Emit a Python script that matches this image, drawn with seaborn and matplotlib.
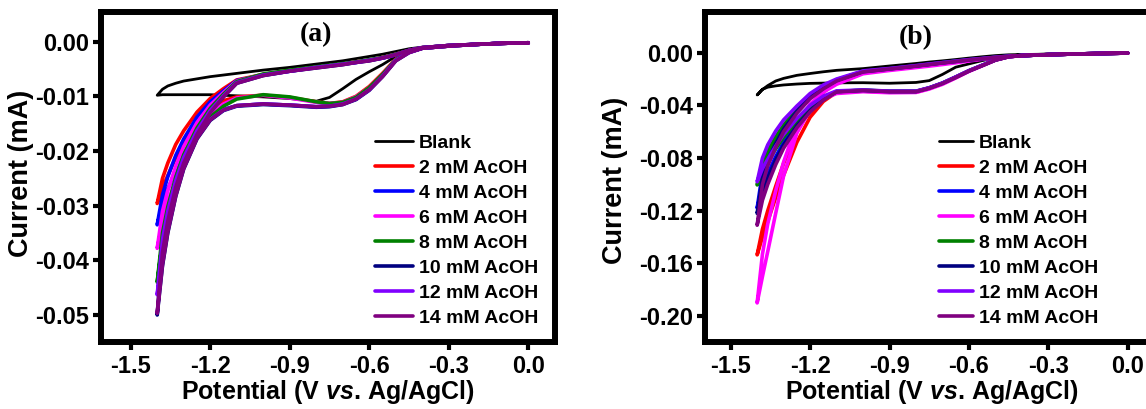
import matplotlib
matplotlib.use("Agg")
import matplotlib.pyplot as plt
import pandas as pd
import seaborn as sns

# ---------------- data ----------------
# potential grid (V vs. Ag/AgCl); forward scan goes 0 -> -1.4, reverse comes back
E = [0.0, -0.1, -0.2, -0.3, -0.4, -0.45, -0.5, -0.55, -0.6, -0.65, -0.7, -0.75,
     -0.8, -0.9, -1.0, -1.1, -1.15, -1.2, -1.25, -1.3, -1.33, -1.36, -1.38, -1.40]

labels = ["Blank", "2 mM AcOH", "4 mM AcOH", "6 mM AcOH", "8 mM AcOH",
          "10 mM AcOH", "12 mM AcOH", "14 mM AcOH"]
colors = ["#000000", "#FF0000", "#0000FF", "#FF00FF", "#008000",
          "#000080", "#8000FF", "#800080"]

x_ticks = [-1.5, -1.2, -0.9, -0.6, -0.3, 0.0]
x_ticklabels = ["-1.5", "-1.2", "-0.9", "-0.6", "-0.3", "0.0"]
a_yticks = [0.00, -0.01, -0.02, -0.03, -0.04, -0.05]
a_yticklabels = ["0.00", "-0.01", "-0.02", "-0.03", "-0.04", "-0.05"]
b_yticks = [0.00, -0.04, -0.08, -0.12, -0.16, -0.20]
b_yticklabels = ["0.00", "-0.04", "-0.08", "-0.12", "-0.16", "-0.20"]

# ---- panel (a): current (mA), forward scan values on E ----
a_fwd_blank = [-0.0002, -0.0003, -0.0005, -0.0007, -0.0011, -0.0017, -0.0027, -0.0042, -0.0055, -0.0069, -0.0086, -0.0102,
               -0.0109, -0.0104, -0.0101, -0.0099, -0.0098, -0.0097, -0.0097, -0.0097, -0.0097, -0.0097, -0.0097, -0.0098]
a_fwd_2 = [-0.0002, -0.0003, -0.0005, -0.0008, -0.0012, -0.0019, -0.0032, -0.0058, -0.0082, -0.0100, -0.0110, -0.0113,
           -0.0110, -0.0102, -0.0098, -0.0101, -0.0108, -0.0122, -0.0148, -0.0185, -0.0212, -0.0245, -0.0268, -0.0296]
a_fwd_4 = [-0.0002, -0.0003, -0.0005, -0.0008, -0.0012, -0.0019, -0.0034, -0.0062, -0.0087, -0.0105, -0.0114, -0.0118,
           -0.0119, -0.0116, -0.0114, -0.0117, -0.0124, -0.0138, -0.0165, -0.0205, -0.0235, -0.0270, -0.0298, -0.0335]
a_fwd_6 = [-0.0002, -0.0003, -0.0005, -0.0008, -0.0012, -0.0019, -0.0033, -0.0060, -0.0084, -0.0101, -0.0111, -0.0113,
           -0.0111, -0.0103, -0.0098, -0.0103, -0.0114, -0.0132, -0.0165, -0.0213, -0.0250, -0.0296, -0.0334, -0.0378]
a_fwd_8 = [-0.0002, -0.0003, -0.0005, -0.0008, -0.0012, -0.0019, -0.0033, -0.0060, -0.0084, -0.0102, -0.0111, -0.0113,
           -0.0110, -0.0101, -0.0097, -0.0105, -0.0118, -0.0138, -0.0172, -0.0222, -0.0265, -0.0318, -0.0365, -0.0440]
a_fwd_10 = [-0.0002, -0.0003, -0.0005, -0.0008, -0.0012, -0.0020, -0.0035, -0.0064, -0.0089, -0.0106, -0.0115, -0.0119,
            -0.0120, -0.0117, -0.0115, -0.0118, -0.0126, -0.0144, -0.0178, -0.0233, -0.0283, -0.0350, -0.0410, -0.0500]
a_fwd_12 = [-0.0002, -0.0003, -0.0005, -0.0008, -0.0012, -0.0020, -0.0034, -0.0063, -0.0088, -0.0105, -0.0114, -0.0118,
            -0.0119, -0.0116, -0.0114, -0.0117, -0.0125, -0.0142, -0.0175, -0.0228, -0.0275, -0.0338, -0.0392, -0.0463]
a_fwd_14 = [-0.0002, -0.0003, -0.0005, -0.0008, -0.0012, -0.0020, -0.0035, -0.0064, -0.0088, -0.0105, -0.0115, -0.0118,
            -0.0119, -0.0116, -0.0114, -0.0117, -0.0125, -0.0143, -0.0177, -0.0232, -0.0282, -0.0348, -0.0408, -0.0497]

# ---- panel (a): reverse scan values on E ----
a_rev_blank = [-0.0002, -0.0003, -0.0005, -0.0007, -0.0010, -0.0013, -0.0018, -0.0023, -0.0027, -0.0031, -0.0035, -0.0038,
               -0.0041, -0.0047, -0.0052, -0.0058, -0.0061, -0.0064, -0.0068, -0.0072, -0.0076, -0.0081, -0.0087, -0.0098]
a_rev_2 = [-0.0002, -0.0003, -0.0005, -0.0007, -0.0011, -0.0016, -0.0023, -0.0029, -0.0034, -0.0037, -0.0041, -0.0044,
           -0.0047, -0.0053, -0.0060, -0.0070, -0.0086, -0.0104, -0.0129, -0.0163, -0.0188, -0.0222, -0.0250, -0.0296]
a_rev_4 = [-0.0002, -0.0003, -0.0005, -0.0007, -0.0011, -0.0016, -0.0024, -0.0030, -0.0034, -0.0038, -0.0041, -0.0044,
           -0.0047, -0.0054, -0.0061, -0.0071, -0.0090, -0.0110, -0.0138, -0.0178, -0.0208, -0.0247, -0.0280, -0.0335]
a_rev_6 = [-0.0002, -0.0003, -0.0005, -0.0007, -0.0011, -0.0016, -0.0023, -0.0029, -0.0034, -0.0037, -0.0041, -0.0044,
           -0.0047, -0.0053, -0.0060, -0.0072, -0.0093, -0.0116, -0.0148, -0.0192, -0.0228, -0.0272, -0.0310, -0.0378]
a_rev_8 = [-0.0002, -0.0003, -0.0005, -0.0007, -0.0011, -0.0016, -0.0023, -0.0029, -0.0033, -0.0037, -0.0040, -0.0043,
           -0.0046, -0.0052, -0.0059, -0.0073, -0.0096, -0.0122, -0.0158, -0.0207, -0.0248, -0.0302, -0.0350, -0.0440]
a_rev_10 = [-0.0002, -0.0003, -0.0005, -0.0007, -0.0011, -0.0016, -0.0024, -0.0030, -0.0035, -0.0038, -0.0042, -0.0045,
            -0.0048, -0.0054, -0.0062, -0.0076, -0.0101, -0.0128, -0.0166, -0.0215, -0.0258, -0.0318, -0.0375, -0.0500]
a_rev_12 = [-0.0002, -0.0003, -0.0005, -0.0007, -0.0011, -0.0016, -0.0024, -0.0030, -0.0034, -0.0038, -0.0041, -0.0044,
            -0.0047, -0.0054, -0.0061, -0.0075, -0.0099, -0.0126, -0.0163, -0.0212, -0.0254, -0.0310, -0.0362, -0.0463]
a_rev_14 = [-0.0002, -0.0003, -0.0005, -0.0007, -0.0011, -0.0016, -0.0024, -0.0030, -0.0035, -0.0038, -0.0042, -0.0045,
            -0.0048, -0.0054, -0.0062, -0.0076, -0.0101, -0.0130, -0.0170, -0.0222, -0.0266, -0.0328, -0.0385, -0.0497]

# ---- panel (b): forward scan values on E ----
b_fwd_blank = [-0.0003, -0.0005, -0.0008, -0.0011, -0.0016, -0.0025, -0.0040, -0.0060, -0.0085, -0.0110, -0.0165, -0.0212,
               -0.0226, -0.0232, -0.0228, -0.0229, -0.0231, -0.0233, -0.0238, -0.0245, -0.0252, -0.0262, -0.0278, -0.0321]
b_fwd_2 = [-0.0003, -0.0006, -0.0010, -0.0015, -0.0022, -0.0031, -0.0056, -0.0098, -0.0140, -0.0190, -0.0236, -0.0272,
           -0.0300, -0.0300, -0.0292, -0.0300, -0.0370, -0.0490, -0.0680, -0.0930, -0.1100, -0.1280, -0.1400, -0.1535]
b_fwd_4 = [-0.0003, -0.0006, -0.0010, -0.0015, -0.0022, -0.0030, -0.0055, -0.0097, -0.0138, -0.0186, -0.0232, -0.0268,
           -0.0294, -0.0294, -0.0285, -0.0295, -0.0350, -0.0430, -0.0540, -0.0680, -0.0790, -0.0920, -0.1020, -0.1180]
b_fwd_6 = [-0.0003, -0.0006, -0.0010, -0.0015, -0.0022, -0.0031, -0.0057, -0.0100, -0.0142, -0.0192, -0.0240, -0.0276,
           -0.0302, -0.0304, -0.0296, -0.0310, -0.0350, -0.0435, -0.0610, -0.0935, -0.1220, -0.1510, -0.1700, -0.1900]
b_fwd_8 = [-0.0003, -0.0006, -0.0010, -0.0015, -0.0022, -0.0030, -0.0055, -0.0096, -0.0137, -0.0185, -0.0231, -0.0267,
           -0.0293, -0.0293, -0.0284, -0.0295, -0.0345, -0.0420, -0.0520, -0.0640, -0.0730, -0.0830, -0.0900, -0.1004]
b_fwd_10 = [-0.0003, -0.0006, -0.0010, -0.0015, -0.0022, -0.0030, -0.0055, -0.0097, -0.0138, -0.0186, -0.0232, -0.0268,
            -0.0295, -0.0295, -0.0286, -0.0295, -0.0355, -0.0440, -0.0555, -0.0700, -0.0815, -0.0950, -0.1060, -0.1220]
b_fwd_12 = [-0.0003, -0.0006, -0.0010, -0.0015, -0.0022, -0.0030, -0.0054, -0.0095, -0.0136, -0.0184, -0.0230, -0.0266,
            -0.0292, -0.0292, -0.0283, -0.0290, -0.0330, -0.0400, -0.0500, -0.0620, -0.0710, -0.0810, -0.0880, -0.0980]
b_fwd_14 = [-0.0003, -0.0006, -0.0010, -0.0015, -0.0022, -0.0031, -0.0056, -0.0098, -0.0139, -0.0188, -0.0234, -0.0270,
            -0.0296, -0.0296, -0.0287, -0.0298, -0.0360, -0.0450, -0.0570, -0.0725, -0.0850, -0.1000, -0.1120, -0.1310]

# ---- panel (b): reverse scan values on E ----
b_rev_blank = [-0.0003, -0.0005, -0.0008, -0.0011, -0.0014, -0.0016, -0.0022, -0.0031, -0.0041, -0.0052, -0.0062, -0.0071,
               -0.0082, -0.0101, -0.0121, -0.0134, -0.0145, -0.0158, -0.0172, -0.0195, -0.0215, -0.0250, -0.0280, -0.0321]
b_rev_2 = [-0.0003, -0.0006, -0.0010, -0.0015, -0.0022, -0.0028, -0.0037, -0.0047, -0.0057, -0.0069, -0.0080, -0.0092,
           -0.0104, -0.0126, -0.0150, -0.0225, -0.0300, -0.0420, -0.0600, -0.0840, -0.1015, -0.1200, -0.1340, -0.1535]
b_rev_4 = [-0.0003, -0.0006, -0.0010, -0.0015, -0.0022, -0.0027, -0.0035, -0.0045, -0.0054, -0.0065, -0.0076, -0.0088,
           -0.0100, -0.0122, -0.0142, -0.0205, -0.0260, -0.0330, -0.0430, -0.0560, -0.0660, -0.0790, -0.0910, -0.1180]
b_rev_6 = [-0.0003, -0.0006, -0.0010, -0.0015, -0.0022, -0.0030, -0.0040, -0.0050, -0.0063, -0.0077, -0.0090, -0.0102,
           -0.0113, -0.0135, -0.0160, -0.0240, -0.0300, -0.0390, -0.0540, -0.0830, -0.1050, -0.1300, -0.1530, -0.1900]
b_rev_8 = [-0.0003, -0.0006, -0.0010, -0.0015, -0.0022, -0.0027, -0.0035, -0.0045, -0.0054, -0.0065, -0.0076, -0.0088,
           -0.0100, -0.0122, -0.0142, -0.0210, -0.0265, -0.0335, -0.0430, -0.0550, -0.0640, -0.0750, -0.0850, -0.1004]
b_rev_10 = [-0.0003, -0.0006, -0.0010, -0.0015, -0.0022, -0.0027, -0.0036, -0.0046, -0.0055, -0.0066, -0.0077, -0.0089,
            -0.0101, -0.0123, -0.0144, -0.0210, -0.0268, -0.0340, -0.0445, -0.0580, -0.0690, -0.0820, -0.0950, -0.1220]
b_rev_12 = [-0.0003, -0.0006, -0.0010, -0.0015, -0.0022, -0.0027, -0.0035, -0.0044, -0.0053, -0.0064, -0.0075, -0.0086,
            -0.0098, -0.0120, -0.0138, -0.0200, -0.0245, -0.0310, -0.0405, -0.0510, -0.0595, -0.0700, -0.0800, -0.0980]
b_rev_14 = [-0.0003, -0.0006, -0.0010, -0.0015, -0.0022, -0.0028, -0.0036, -0.0046, -0.0056, -0.0067, -0.0078, -0.0090,
            -0.0102, -0.0124, -0.0146, -0.0215, -0.0275, -0.0350, -0.0460, -0.0600, -0.0720, -0.0860, -0.1000, -0.1310]

a_fwd = [a_fwd_blank, a_fwd_2, a_fwd_4, a_fwd_6, a_fwd_8, a_fwd_10, a_fwd_12, a_fwd_14]
a_rev = [a_rev_blank, a_rev_2, a_rev_4, a_rev_6, a_rev_8, a_rev_10, a_rev_12, a_rev_14]
b_fwd = [b_fwd_blank, b_fwd_2, b_fwd_4, b_fwd_6, b_fwd_8, b_fwd_10, b_fwd_12, b_fwd_14]
b_rev = [b_rev_blank, b_rev_2, b_rev_4, b_rev_6, b_rev_8, b_rev_10, b_rev_12, b_rev_14]

# ---------------- style ----------------
sns.set_style("ticks")
plt.rcParams["font.family"] = ["Liberation Sans", "DejaVu Sans"]
plt.rcParams["font.weight"] = "bold"
plt.rcParams["axes.labelweight"] = "bold"
plt.rcParams["axes.unicode_minus"] = False
plt.rcParams["text.color"] = "black"
plt.rcParams["axes.labelcolor"] = "black"
plt.rcParams["xtick.color"] = "black"
plt.rcParams["ytick.color"] = "black"
plt.rcParams["axes.edgecolor"] = "black"
plt.rcParams["mathtext.fontset"] = "custom"
plt.rcParams["mathtext.rm"] = "Liberation Sans:bold"
plt.rcParams["mathtext.it"] = "Liberation Sans:italic:bold"
plt.rcParams["mathtext.bf"] = "Liberation Sans:bold"

W, H = 1146, 409
fig = plt.figure(figsize=(W / 100, H / 100), dpi=100)
axA = fig.add_axes([101 / W, 1 - 342 / H, 454 / W, 330 / H])
axB = fig.add_axes([705 / W, 1 - 342 / H, 454 / W, 330 / H])


def draw(ax, fwds, revs):
    for lab, col, f, r in zip(labels, colors, fwds, revs):
        df = pd.DataFrame({"Potential": E + E[::-1], "Current": f + r[::-1]})
        sns.lineplot(data=df, x="Potential", y="Current", sort=False, estimator=None,
                     color=col, lw=2.0 if lab == "Blank" else 2.6, label=lab, ax=ax,
                     solid_joinstyle="round", solid_capstyle="round")


def style(ax, xlim, ylim, yticks, yticklabels, tag, tagpos, ylabpos, legx, hlen):
    ax.set_xlim(*xlim)
    ax.set_ylim(*ylim)
    ax.set_xticks(x_ticks)
    ax.set_xticklabels(x_ticklabels)
    ax.set_yticks(yticks)
    ax.set_yticklabels(yticklabels)
    for sp in ax.spines.values():
        sp.set_linewidth(4.3)
        sp.set_color("black")
    ax.tick_params(axis="both", direction="out", length=5.5, width=3, labelsize=17,
                   colors="black")
    ax.tick_params(axis="x", pad=4)
    ax.tick_params(axis="y", pad=3)
    for t in ax.get_xticklabels() + ax.get_yticklabels():
        t.set_fontweight("bold")
    ax.set_xlabel(r"Potential (V $\mathit{vs}$. Ag/AgCl)", fontsize=18,
                  fontweight="bold", va="center", color="black")
    ax.xaxis.set_label_coords(0.5, -0.152)
    ax.set_ylabel("Current (mA)", fontsize=19.5, fontweight="bold", va="center",
                  color="black")
    ax.yaxis.set_label_coords(ylabpos[0], ylabpos[1])
    ax.text(tagpos[0], tagpos[1], tag, transform=ax.transAxes, ha="center", va="center",
            fontsize=20, fontweight="bold", color="black",
            family=["Liberation Serif", "DejaVu Serif"])
    ax.legend(loc="upper left", bbox_to_anchor=(legx, 0.630), frameon=False,
              borderpad=0, borderaxespad=0, handlelength=hlen, handletextpad=0.3,
              labelspacing=0.38, prop={"weight": "bold", "size": 14})


draw(axA, a_fwd, a_rev)
draw(axB, b_fwd, b_rev)
style(axA, (-1.612, 0.1008), (-0.05494, 0.00543), a_yticks, a_yticklabels,
      "(a)", (0.4725, 0.930), (-0.176, 0.512), 0.6035, 1.96)
style(axB, (-1.597, 0.118), (-0.2197, 0.0309), b_yticks, b_yticklabels,
      "(b)", (0.465, 0.921), (-0.198, 0.491), 0.5154, 1.75)

fig.savefig("out.png", dpi=100)
